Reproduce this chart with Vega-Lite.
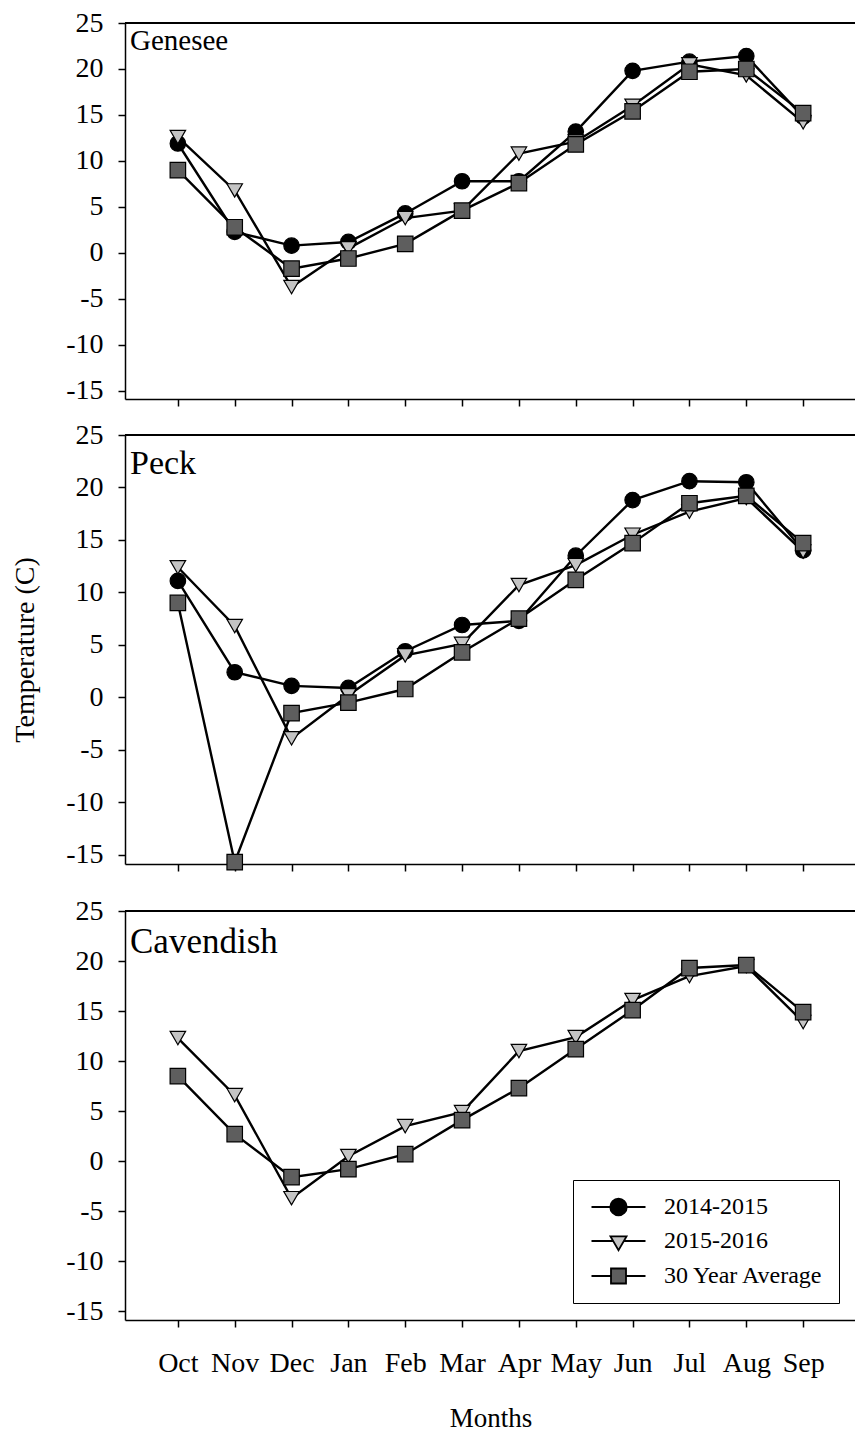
{
  "$schema": "https://vega.github.io/schema/vega-lite/v6.json",
  "background": "white",
  "padding": {"left": 11, "top": 9, "right": 0, "bottom": 0},
  "spacing": 14,
  "bounds": "full",
  "datasets": {
    "temps": [
      {"site": "Genesee", "series": "2014-2015", "month": "Oct", "temp": 11.9},
      {"site": "Genesee", "series": "2014-2015", "month": "Nov", "temp": 2.3},
      {"site": "Genesee", "series": "2014-2015", "month": "Dec", "temp": 0.8},
      {"site": "Genesee", "series": "2014-2015", "month": "Jan", "temp": 1.2},
      {"site": "Genesee", "series": "2014-2015", "month": "Feb", "temp": 4.3},
      {"site": "Genesee", "series": "2014-2015", "month": "Mar", "temp": 7.8},
      {"site": "Genesee", "series": "2014-2015", "month": "Apr", "temp": 7.8},
      {"site": "Genesee", "series": "2014-2015", "month": "May", "temp": 13.2},
      {"site": "Genesee", "series": "2014-2015", "month": "Jun", "temp": 19.8},
      {"site": "Genesee", "series": "2014-2015", "month": "Jul", "temp": 20.8},
      {"site": "Genesee", "series": "2014-2015", "month": "Aug", "temp": 21.4},
      {"site": "Genesee", "series": "2014-2015", "month": "Sep", "temp": 14.8},
      {"site": "Genesee", "series": "2015-2016", "month": "Oct", "temp": 12.6},
      {"site": "Genesee", "series": "2015-2016", "month": "Nov", "temp": 6.8},
      {"site": "Genesee", "series": "2015-2016", "month": "Dec", "temp": -3.7},
      {"site": "Genesee", "series": "2015-2016", "month": "Jan", "temp": 0.5},
      {"site": "Genesee", "series": "2015-2016", "month": "Feb", "temp": 3.8},
      {"site": "Genesee", "series": "2015-2016", "month": "Mar", "temp": 4.6},
      {"site": "Genesee", "series": "2015-2016", "month": "Apr", "temp": 10.8},
      {"site": "Genesee", "series": "2015-2016", "month": "May", "temp": 12.1},
      {"site": "Genesee", "series": "2015-2016", "month": "Jun", "temp": 16.0},
      {"site": "Genesee", "series": "2015-2016", "month": "Jul", "temp": 20.5},
      {"site": "Genesee", "series": "2015-2016", "month": "Aug", "temp": 19.3},
      {"site": "Genesee", "series": "2015-2016", "month": "Sep", "temp": 14.2},
      {"site": "Genesee", "series": "30 Year Average", "month": "Oct", "temp": 9.0},
      {"site": "Genesee", "series": "30 Year Average", "month": "Nov", "temp": 2.8},
      {"site": "Genesee", "series": "30 Year Average", "month": "Dec", "temp": -1.7},
      {"site": "Genesee", "series": "30 Year Average", "month": "Jan", "temp": -0.6},
      {"site": "Genesee", "series": "30 Year Average", "month": "Feb", "temp": 1.0},
      {"site": "Genesee", "series": "30 Year Average", "month": "Mar", "temp": 4.6},
      {"site": "Genesee", "series": "30 Year Average", "month": "Apr", "temp": 7.6},
      {"site": "Genesee", "series": "30 Year Average", "month": "May", "temp": 11.8},
      {"site": "Genesee", "series": "30 Year Average", "month": "Jun", "temp": 15.4},
      {"site": "Genesee", "series": "30 Year Average", "month": "Jul", "temp": 19.7},
      {"site": "Genesee", "series": "30 Year Average", "month": "Aug", "temp": 20.0},
      {"site": "Genesee", "series": "30 Year Average", "month": "Sep", "temp": 15.2},
      {"site": "Peck", "series": "2014-2015", "month": "Oct", "temp": 11.1},
      {"site": "Peck", "series": "2014-2015", "month": "Nov", "temp": 2.4},
      {"site": "Peck", "series": "2014-2015", "month": "Dec", "temp": 1.1},
      {"site": "Peck", "series": "2014-2015", "month": "Jan", "temp": 0.9},
      {"site": "Peck", "series": "2014-2015", "month": "Feb", "temp": 4.4},
      {"site": "Peck", "series": "2014-2015", "month": "Mar", "temp": 6.9},
      {"site": "Peck", "series": "2014-2015", "month": "Apr", "temp": 7.3},
      {"site": "Peck", "series": "2014-2015", "month": "May", "temp": 13.5},
      {"site": "Peck", "series": "2014-2015", "month": "Jun", "temp": 18.8},
      {"site": "Peck", "series": "2014-2015", "month": "Jul", "temp": 20.6},
      {"site": "Peck", "series": "2014-2015", "month": "Aug", "temp": 20.5},
      {"site": "Peck", "series": "2014-2015", "month": "Sep", "temp": 14.0},
      {"site": "Peck", "series": "2015-2016", "month": "Oct", "temp": 12.4},
      {"site": "Peck", "series": "2015-2016", "month": "Nov", "temp": 6.8},
      {"site": "Peck", "series": "2015-2016", "month": "Dec", "temp": -3.9},
      {"site": "Peck", "series": "2015-2016", "month": "Jan", "temp": 0.2},
      {"site": "Peck", "series": "2015-2016", "month": "Feb", "temp": 4.0},
      {"site": "Peck", "series": "2015-2016", "month": "Mar", "temp": 5.1},
      {"site": "Peck", "series": "2015-2016", "month": "Apr", "temp": 10.7},
      {"site": "Peck", "series": "2015-2016", "month": "May", "temp": 12.6},
      {"site": "Peck", "series": "2015-2016", "month": "Jun", "temp": 15.5},
      {"site": "Peck", "series": "2015-2016", "month": "Jul", "temp": 17.7},
      {"site": "Peck", "series": "2015-2016", "month": "Aug", "temp": 19.0},
      {"site": "Peck", "series": "2015-2016", "month": "Sep", "temp": 13.9},
      {"site": "Peck", "series": "30 Year Average", "month": "Oct", "temp": 9.0},
      {"site": "Peck", "series": "30 Year Average", "month": "Nov", "temp": -15.7},
      {"site": "Peck", "series": "30 Year Average", "month": "Dec", "temp": -1.5},
      {"site": "Peck", "series": "30 Year Average", "month": "Jan", "temp": -0.5},
      {"site": "Peck", "series": "30 Year Average", "month": "Feb", "temp": 0.8},
      {"site": "Peck", "series": "30 Year Average", "month": "Mar", "temp": 4.3},
      {"site": "Peck", "series": "30 Year Average", "month": "Apr", "temp": 7.5},
      {"site": "Peck", "series": "30 Year Average", "month": "May", "temp": 11.2},
      {"site": "Peck", "series": "30 Year Average", "month": "Jun", "temp": 14.7},
      {"site": "Peck", "series": "30 Year Average", "month": "Jul", "temp": 18.5},
      {"site": "Peck", "series": "30 Year Average", "month": "Aug", "temp": 19.2},
      {"site": "Peck", "series": "30 Year Average", "month": "Sep", "temp": 14.7},
      {"site": "Cavendish", "series": "2015-2016", "month": "Oct", "temp": 12.3},
      {"site": "Cavendish", "series": "2015-2016", "month": "Nov", "temp": 6.6},
      {"site": "Cavendish", "series": "2015-2016", "month": "Dec", "temp": -3.7},
      {"site": "Cavendish", "series": "2015-2016", "month": "Jan", "temp": 0.5},
      {"site": "Cavendish", "series": "2015-2016", "month": "Feb", "temp": 3.5},
      {"site": "Cavendish", "series": "2015-2016", "month": "Mar", "temp": 4.9},
      {"site": "Cavendish", "series": "2015-2016", "month": "Apr", "temp": 11.0},
      {"site": "Cavendish", "series": "2015-2016", "month": "May", "temp": 12.4},
      {"site": "Cavendish", "series": "2015-2016", "month": "Jun", "temp": 16.1},
      {"site": "Cavendish", "series": "2015-2016", "month": "Jul", "temp": 18.5},
      {"site": "Cavendish", "series": "2015-2016", "month": "Aug", "temp": 19.5},
      {"site": "Cavendish", "series": "2015-2016", "month": "Sep", "temp": 13.9},
      {"site": "Cavendish", "series": "30 Year Average", "month": "Oct", "temp": 8.5},
      {"site": "Cavendish", "series": "30 Year Average", "month": "Nov", "temp": 2.7},
      {"site": "Cavendish", "series": "30 Year Average", "month": "Dec", "temp": -1.6},
      {"site": "Cavendish", "series": "30 Year Average", "month": "Jan", "temp": -0.8},
      {"site": "Cavendish", "series": "30 Year Average", "month": "Feb", "temp": 0.7},
      {"site": "Cavendish", "series": "30 Year Average", "month": "Mar", "temp": 4.1},
      {"site": "Cavendish", "series": "30 Year Average", "month": "Apr", "temp": 7.3},
      {"site": "Cavendish", "series": "30 Year Average", "month": "May", "temp": 11.2},
      {"site": "Cavendish", "series": "30 Year Average", "month": "Jun", "temp": 15.1},
      {"site": "Cavendish", "series": "30 Year Average", "month": "Jul", "temp": 19.3},
      {"site": "Cavendish", "series": "30 Year Average", "month": "Aug", "temp": 19.6},
      {"site": "Cavendish", "series": "30 Year Average", "month": "Sep", "temp": 14.9}
    ]
  },
  "config": {
    "view": {"stroke": null},
    "font": "Liberation Serif",
    "axis": {
      "domainColor": "black", "domainWidth": 1.5,
      "tickColor": "black", "tickWidth": 1.5, "tickSize": 7,
      "labelColor": "black", "titleColor": "black",
      "labelFont": "Liberation Serif", "titleFont": "Liberation Serif",
      "labelFontSize": 28, "titleFontSize": 28, "titleFontWeight": "normal",
      "grid": false
    },
    "axisY": {"labelPadding": 15, "titlePadding": 26},
    "title": {"font": "Liberation Serif", "fontWeight": "normal", "color": "black", "anchor": "start", "frame": "group", "baseline": "alphabetic"}
  },
  "resolve": {"scale": {"shape": "independent", "fill": "independent"}},
  "vconcat": [
    {
      "width": 731, "height": 376,
      "title": {"text": "Genesee", "offset": -47, "dx": 5, "fontSize": 29},
      "data": {"name": "temps"},
      "transform": [{"filter": "datum.site === 'Genesee'"}],
      "layer": [
        {"mark": {"type": "rule", "color": "black", "strokeWidth": 1.5},
         "encoding": {"y": {"datum": 25, "type": "quantitative"}}},
        {"mark": {"type": "line", "color": "black", "strokeWidth": 2.4},
         "encoding": {
           "x": {"field": "month", "type": "ordinal", "sort": ["Oct","Nov","Dec","Jan","Feb","Mar","Apr","May","Jun","Jul","Aug","Sep"], "scale": {"type": "point", "padding": 0.93}, "axis": {"labels": false, "title": null, "ticks": true, "domain": true}},
           "y": {"field": "temp", "type": "quantitative", "scale": {"domain": [-15.87, 25], "nice": false, "zero": false}, "axis": {"values": [-15,-10,-5,0,5,10,15,20,25], "labelExpr": "toString(datum.value)", "title": "Temperature (C)", "titleOpacity": 0}},
           "detail": {"field": "series"}
         }},
        {"mark": {"type": "point", "filled": true, "size": 240, "stroke": "black", "strokeWidth": 1.2, "opacity": 1},
         "encoding": {
           "x": {"field": "month", "type": "ordinal", "sort": ["Oct","Nov","Dec","Jan","Feb","Mar","Apr","May","Jun","Jul","Aug","Sep"]},
           "y": {"field": "temp", "type": "quantitative"},
           "shape": {"field": "series", "type": "nominal", "scale": {"domain": ["2014-2015","2015-2016","30 Year Average"], "range": ["circle","triangle-down","square"]}, "legend": null},
           "fill": {"field": "series", "type": "nominal", "scale": {"domain": ["2014-2015","2015-2016","30 Year Average"], "range": ["#000000","#c4c4c4","#5e5e5e"]}, "legend": null}
         }}
      ]
    },
    {
      "width": 731, "height": 429,
      "title": {"text": "Peck", "offset": -60, "dx": 5, "fontSize": 34},
      "data": {"name": "temps"},
      "transform": [{"filter": "datum.site === 'Peck'"}],
      "layer": [
        {"mark": {"type": "rule", "color": "black", "strokeWidth": 1.5},
         "encoding": {"y": {"datum": 25, "type": "quantitative"}}},
        {"mark": {"type": "line", "color": "black", "strokeWidth": 2.4},
         "encoding": {
           "x": {"field": "month", "type": "ordinal", "sort": ["Oct","Nov","Dec","Jan","Feb","Mar","Apr","May","Jun","Jul","Aug","Sep"], "scale": {"type": "point", "padding": 0.93}, "axis": {"labels": false, "title": null, "ticks": true, "domain": true}},
           "y": {"field": "temp", "type": "quantitative", "scale": {"domain": [-15.87, 25], "nice": false, "zero": false}, "axis": {"values": [-15,-10,-5,0,5,10,15,20,25], "labelExpr": "toString(datum.value)", "title": "Temperature (C)"}},
           "detail": {"field": "series"}
         }},
        {"mark": {"type": "point", "filled": true, "size": 240, "stroke": "black", "strokeWidth": 1.2, "opacity": 1},
         "encoding": {
           "x": {"field": "month", "type": "ordinal", "sort": ["Oct","Nov","Dec","Jan","Feb","Mar","Apr","May","Jun","Jul","Aug","Sep"]},
           "y": {"field": "temp", "type": "quantitative"},
           "shape": {"field": "series", "type": "nominal", "scale": {"domain": ["2014-2015","2015-2016","30 Year Average"], "range": ["circle","triangle-down","square"]}, "legend": null},
           "fill": {"field": "series", "type": "nominal", "scale": {"domain": ["2014-2015","2015-2016","30 Year Average"], "range": ["#000000","#c4c4c4","#5e5e5e"]}, "legend": null}
         }}
      ]
    },
    {
      "width": 731, "height": 409,
      "title": {"text": "Cavendish", "offset": -73, "dx": 5, "fontSize": 35},
      "data": {"name": "temps"},
      "transform": [{"filter": "datum.site === 'Cavendish'"}],
      "resolve": {"axis": {"x": "independent"}, "scale": {"shape": "independent", "fill": "independent"}},
      "layer": [
        {"mark": {"type": "rule", "color": "black", "strokeWidth": 1.5},
         "encoding": {"y": {"datum": 25, "type": "quantitative"}}},
        {"mark": {"type": "line", "color": "black", "strokeWidth": 2.4},
         "encoding": {
           "x": {"field": "month", "type": "ordinal", "sort": ["Oct","Nov","Dec","Jan","Feb","Mar","Apr","May","Jun","Jul","Aug","Sep"], "scale": {"type": "point", "padding": 0.93}, "axis": {"title": "Months", "titleFontSize": 27, "labelAngle": 0, "labelPadding": 22, "titlePadding": 28, "ticks": true, "domain": true}},
           "y": {"field": "temp", "type": "quantitative", "scale": {"domain": [-15.87, 25], "nice": false, "zero": false}, "axis": {"values": [-15,-10,-5,0,5,10,15,20,25], "labelExpr": "toString(datum.value)", "title": "Temperature (C)", "titleOpacity": 0}},
           "detail": {"field": "series"}
         }},
        {"mark": {"type": "point", "filled": true, "size": 240, "stroke": "black", "strokeWidth": 1.2, "opacity": 1},
         "encoding": {
           "x": {"field": "month", "type": "ordinal", "sort": ["Oct","Nov","Dec","Jan","Feb","Mar","Apr","May","Jun","Jul","Aug","Sep"], "axis": {"orient": "top", "labels": false, "domain": false, "ticks": true, "tickOpacity": 0, "tickSize": 24, "title": null}},
           "y": {"field": "temp", "type": "quantitative"},
           "shape": {"field": "series", "type": "nominal", "scale": {"domain": ["2014-2015","2015-2016","30 Year Average"], "range": ["circle","triangle-down","square"]}, "legend": null},
           "fill": {"field": "series", "type": "nominal", "scale": {"domain": ["2014-2015","2015-2016","30 Year Average"], "range": ["#000000","#c4c4c4","#5e5e5e"]}, "legend": null}
         }},
        {"mark": {"type": "point", "filled": true, "size": 0, "stroke": "black", "strokeWidth": 1.8, "opacity": 1},
         "encoding": {
           "x": {"field": "month", "type": "ordinal", "sort": ["Oct","Nov","Dec","Jan","Feb","Mar","Apr","May","Jun","Jul","Aug","Sep"], "axis": null},
           "y": {"field": "temp", "type": "quantitative"},
           "shape": {"field": "series", "type": "nominal",
             "scale": {"domain": ["2014-2015","2015-2016","30 Year Average"], "range": [
               "M-3.6,0H-1.1M1.1,0H3.6M-1.1,0A1.1,1.1,0,1,1,1.1,0A1.1,1.1,0,1,1,-1.1,0Z",
               "M-3.6,0H-0.72M0.72,0H3.6M-1.07,-0.62L1.07,-0.62L0,1.24Z",
               "M-3.6,0H-1M1,0H3.6M-1,-1H1V1H-1Z"]},
             "legend": {
               "orient": "bottom-right", "offset": 17, "title": null,
               "strokeColor": "black", "fillColor": "white", "padding": 15,
               "labelFont": "Liberation Serif", "labelFontSize": 24, "labelColor": "black",
               "symbolSize": 225, "symbolStrokeWidth": 1.8, "symbolStrokeColor": "black", "symbolOpacity": 1,
               "symbolOffset": 18.5, "labelOffset": 33.5, "rowPadding": 10,
               "encoding": {"symbols": {"stroke": {"value": "black"}, "strokeWidth": {"value": 1.8}}}
             }},
           "fill": {"field": "series", "type": "nominal", "scale": {"domain": ["2014-2015","2015-2016","30 Year Average"], "range": ["#000000","#c4c4c4","#5e5e5e"]}}
         }}
      ]
    }
  ]
}
